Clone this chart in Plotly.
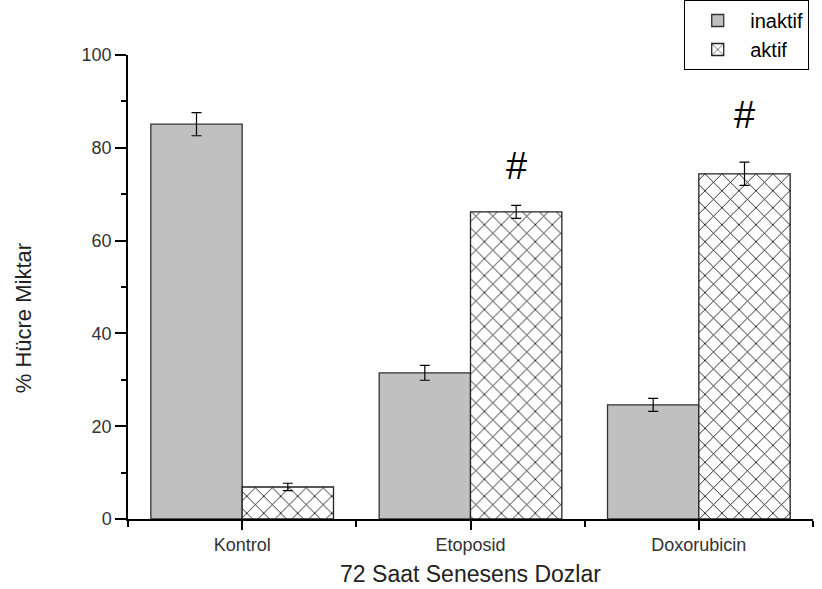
import plotly.graph_objects as go

categories = ["Kontrol", "Etoposid", "Doxorubicin"]
inaktif = [85.1, 31.5, 24.6]
inaktif_err = [2.5, 1.6, 1.4]
aktif = [6.9, 66.2, 74.4]
aktif_err = [0.8, 1.4, 2.5]
sig_marks = ["", "#", "#"]
sig_y = [None, 76.1, 87.0]

xpos = list(range(len(categories)))
FONT = "Liberation Sans"

fig = go.Figure()
fig.add_trace(go.Bar(
    x=xpos, y=inaktif, name="inaktif",
    marker=dict(color="#c0c0c0", line=dict(color="#333333", width=1.3)),
    error_y=dict(type="data", array=inaktif_err, color="black", thickness=1.2, width=5),
))
fig.add_trace(go.Bar(
    x=xpos, y=aktif, name="aktif",
    marker=dict(color="white", line=dict(color="#222222", width=1.3),
                pattern=dict(shape="x", fgcolor="black", bgcolor="white",
                             size=12, solidity=0.13, fillmode="replace")),
    error_y=dict(type="data", array=aktif_err, color="black", thickness=1.2, width=5),
))

# significance marks above the active bars
for i, (m, yv) in enumerate(zip(sig_marks, sig_y)):
    if m:
        fig.add_annotation(x=i + 0.2, y=yv, text=m, showarrow=False,
                           font=dict(size=38, color="black", family=FONT))

fig.add_annotation(xref="paper", yref="paper", x=-0.153, y=0.433,
                   xanchor="center", yanchor="middle", text="% Hücre Miktar",
                   textangle=-90, showarrow=False,
                   font=dict(size=22, color="#222222", family=FONT))

fig.update_layout(
    width=822, height=589,
    margin=dict(l=128, r=9, t=55, b=70, autoexpand=False),
    paper_bgcolor="white", plot_bgcolor="white",
    barmode="group", bargap=0.2, bargroupgap=0,
    font=dict(family=FONT, color="#222222"),
    showlegend=True,
    legend=dict(x=0.812, y=1.1185, xanchor="left", yanchor="top",
                bordercolor="black", borderwidth=1, bgcolor="white",
                font=dict(size=20, color="black"), tracegroupgap=0,
                itemwidth=55),
    xaxis=dict(
        range=[-0.5, 2.5], tickvals=xpos, ticktext=categories,
        showline=True, linecolor="black", linewidth=1.5,
        ticks="outside", ticklen=9, tickwidth=1.5, tickcolor="black",
        minor=dict(tickvals=[-0.5, 0.5, 1.5, 2.5], ticks="outside", ticklen=6,
                   tickwidth=1.5, tickcolor="black"),
        showgrid=False, zeroline=False,
        tickfont=dict(size=18, color="#333333"),
        title=dict(text="72 Saat Senesens Dozlar", font=dict(size=23, color="#222222"),
                   standoff=12),
    ),
    yaxis=dict(
        range=[0, 100], tickvals=[0, 20, 40, 60, 80, 100],
        showline=True, linecolor="black", linewidth=1.5,
        ticks="outside", ticklen=11, tickwidth=1.5, tickcolor="black",
        minor=dict(tickvals=[10, 30, 50, 70, 90], ticks="outside", ticklen=5,
                   tickwidth=1.5, tickcolor="black"),
        showgrid=False, zeroline=False,
        tickfont=dict(size=18, color="#333333"),
    ),
)

fig.write_html("out.html")
